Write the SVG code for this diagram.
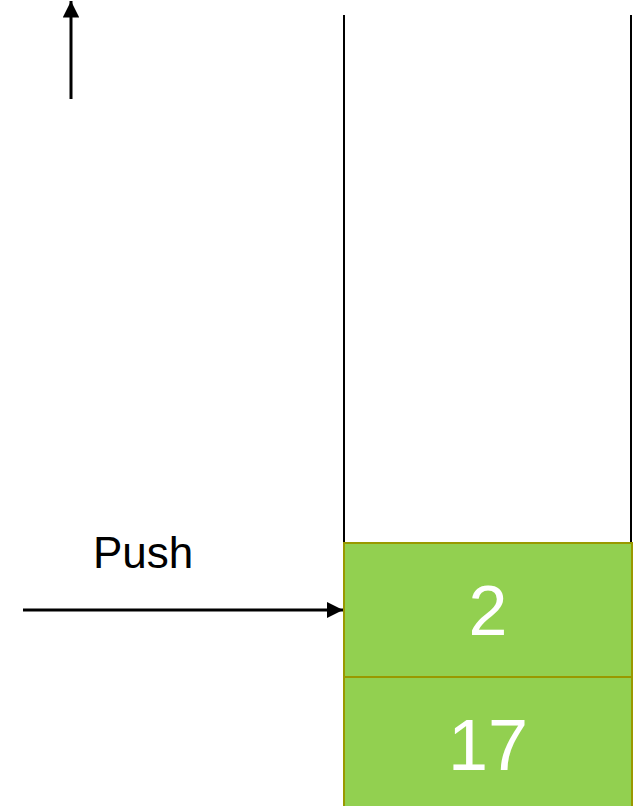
<svg xmlns="http://www.w3.org/2000/svg" width="633" height="806" viewBox="0 0 633 806">
  <style>
    .wall { stroke: #000; stroke-width: 2; fill: none; }
    .conn { stroke: #000; stroke-width: 3; fill: none; }
    .cell { fill: #92D050; stroke: #999900; stroke-width: 2; }
    .val { font-family: "Liberation Sans", Arial, sans-serif; fill: #fff; text-anchor: middle; }
    .lbl { font-family: "Liberation Sans", Arial, sans-serif; fill: #000; font-size: 44px; }
  </style>
  <defs>
    <marker id="head" viewBox="0 0 10 10" refX="10" refY="5" markerWidth="5.5" markerHeight="5.5" markerUnits="strokeWidth" orient="auto">
      <path d="M0,0 L10,5 L0,10 z" fill="#000"/>
    </marker>
  </defs>

  <!-- stack walls -->
  <g id="stack-walls">
    <line class="wall" x1="344" y1="15" x2="344" y2="543"/>
    <line class="wall" x1="631" y1="15" x2="631" y2="543"/>
  </g>

  <!-- stack cells -->
  <g id="cell-2">
    <rect class="cell" x="344" y="543" width="288" height="134"/>
    <text class="val" x="488" y="635" font-size="70">2</text>
  </g>
  <g id="cell-17">
    <rect class="cell" x="344" y="677" width="288" height="134"/>
    <text class="val" x="488" y="770" font-size="72">17</text>
  </g>

  <g id="push-label">
    <text class="lbl" x="93" y="568">Push</text>
  </g>

  <!-- connectors -->
  <g id="connectors">
    <line class="conn" x1="71" y1="99" x2="71" y2="1" marker-end="url(#head)"/>
    <line class="conn" x1="23" y1="610" x2="343" y2="610" marker-end="url(#head)"/>
  </g>
</svg>
